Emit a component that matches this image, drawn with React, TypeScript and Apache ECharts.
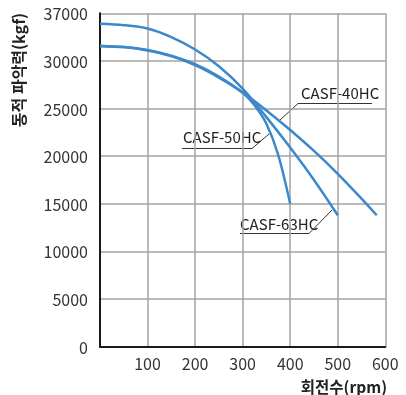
import React, { useEffect, useRef } from 'react';
import * as echarts from 'echarts';

// Data (rpm vs dynamic gripping force, kgf on the chart's linear scale)
const rpm40 = [0, 50, 100, 150, 200, 250, 300, 350, 400, 450, 500, 550, 582];
const force40 = [31550, 31450, 31100, 30500, 29550, 28250, 26700, 24800, 22750, 20550, 18150, 15550, 13800];

const rpm50 = [0, 50, 100, 150, 200, 250, 300, 325, 350, 375, 400];
const force50 = [31600, 31450, 31150, 30550, 29650, 28350, 26650, 25350, 23400, 20100, 15000];

const rpm63 = [0, 50, 100, 150, 200, 250, 300, 350, 400, 450, 500];
const force63 = [33900, 33750, 33400, 32500, 31200, 29450, 27100, 24100, 20900, 17500, 13800];

const seriesNames = ['CASF-40HC', 'CASF-50HC', 'CASF-63HC'];
const xTicks = [100, 200, 300, 400, 500, 600];
const topTickLabel = '37000';

const FONT = '"Noto Sans CJK KR", "Noto Sans", sans-serif';
const LINE_COLOR = '#3b88ca';

function pairs(xs: number[], ys: number[]) {
  return xs.map((x, i) => [x, ys[i]]);
}

export default function App() {
  const ref = useRef<HTMLDivElement>(null);
  useEffect(() => {
    const chart = echarts.init(ref.current!, null, { renderer: 'svg' });
    const lineSeries = [
      pairs(rpm40, force40),
      pairs(rpm50, force50),
      pairs(rpm63, force63),
    ].map((d, i) => ({
      type: 'line',
      name: seriesNames[i],
      data: d,
      smooth: 0.3,
      showSymbol: false,
      symbol: 'none',
      lineStyle: { color: LINE_COLOR, width: 2.5 },
      z: 3,
    }));
    const annot = (text: string, tx: number, ty: number, pts: number[][]) => [
      {
        type: 'text',
        x: tx,
        y: ty,
        style: { text, fontFamily: FONT, fontSize: 15, fill: '#222', align: 'left', verticalAlign: 'middle' },
      },
      {
        type: 'polyline',
        shape: { points: pts },
        style: { stroke: '#333', lineWidth: 1, fill: null },
      },
    ];
    chart.setOption({
      animation: false,
      grid: { left: 100, right: 20.7, top: 13.3, bottom: 48.3, containLabel: false },
      xAxis: {
        type: 'value',
        min: 0,
        max: 600,
        interval: 100,
        axisLine: { show: true, lineStyle: { color: '#1a1a1a', width: 2 } },
        axisTick: { show: false },
        axisLabel: {
          margin: 8,
          fontFamily: FONT,
          fontSize: 16,
          lineHeight: 16,
          color: '#333',
          formatter: (v: number) => (xTicks.includes(v) ? String(v) : ''),
        },
        splitLine: { show: true, lineStyle: { color: '#a3a3a3', width: 1.5 } },
      },
      yAxis: {
        type: 'value',
        min: 0,
        max: 35000,
        interval: 5000,
        axisLine: { show: true, lineStyle: { color: '#1a1a1a', width: 2 } },
        axisTick: { show: false },
        axisLabel: {
          margin: 12,
          fontFamily: FONT,
          fontSize: 16,
          color: '#333',
          formatter: (v: number) => (v === 35000 ? topTickLabel : String(v)),
        },
        splitLine: { show: true, lineStyle: { color: '#a3a3a3', width: 1.5 } },
      },
      series: lineSeries,
      graphic: [
        {
          type: 'text',
          x: 18,
          y: 70,
          rotation: Math.PI / 2,
          style: {
            text: '동적 파악력(kgf)',
            fontFamily: FONT,
            fontSize: 16,
            fontWeight: 'bold',
            fill: '#222',
            align: 'center',
            verticalAlign: 'middle',
          },
        },
        {
          type: 'text',
          x: 387,
          y: 385.5,
          style: {
            text: '회전수(rpm)',
            fontFamily: FONT,
            fontSize: 15.5,
            lineHeight: 16,
            fontWeight: 'bold',
            fill: '#222',
            align: 'right',
            verticalAlign: 'middle',
          },
        },
        ...annot('CASF-40HC', 301, 92.5, [[372, 103.5], [298, 103.5], [280, 120]]),
        ...annot('CASF-50HC', 183, 136.5, [[182, 148.5], [252, 148.5], [269, 134]]),
        ...annot('CASF-63HC', 240, 223.5, [[240, 233.5], [309, 233.5], [332, 210]]),
      ],
    });
    return () => chart.dispose();
  }, []);
  return <div ref={ref} style={{ position: 'fixed', left: 0, top: 0, width: 406, height: 395 }} />;
}
